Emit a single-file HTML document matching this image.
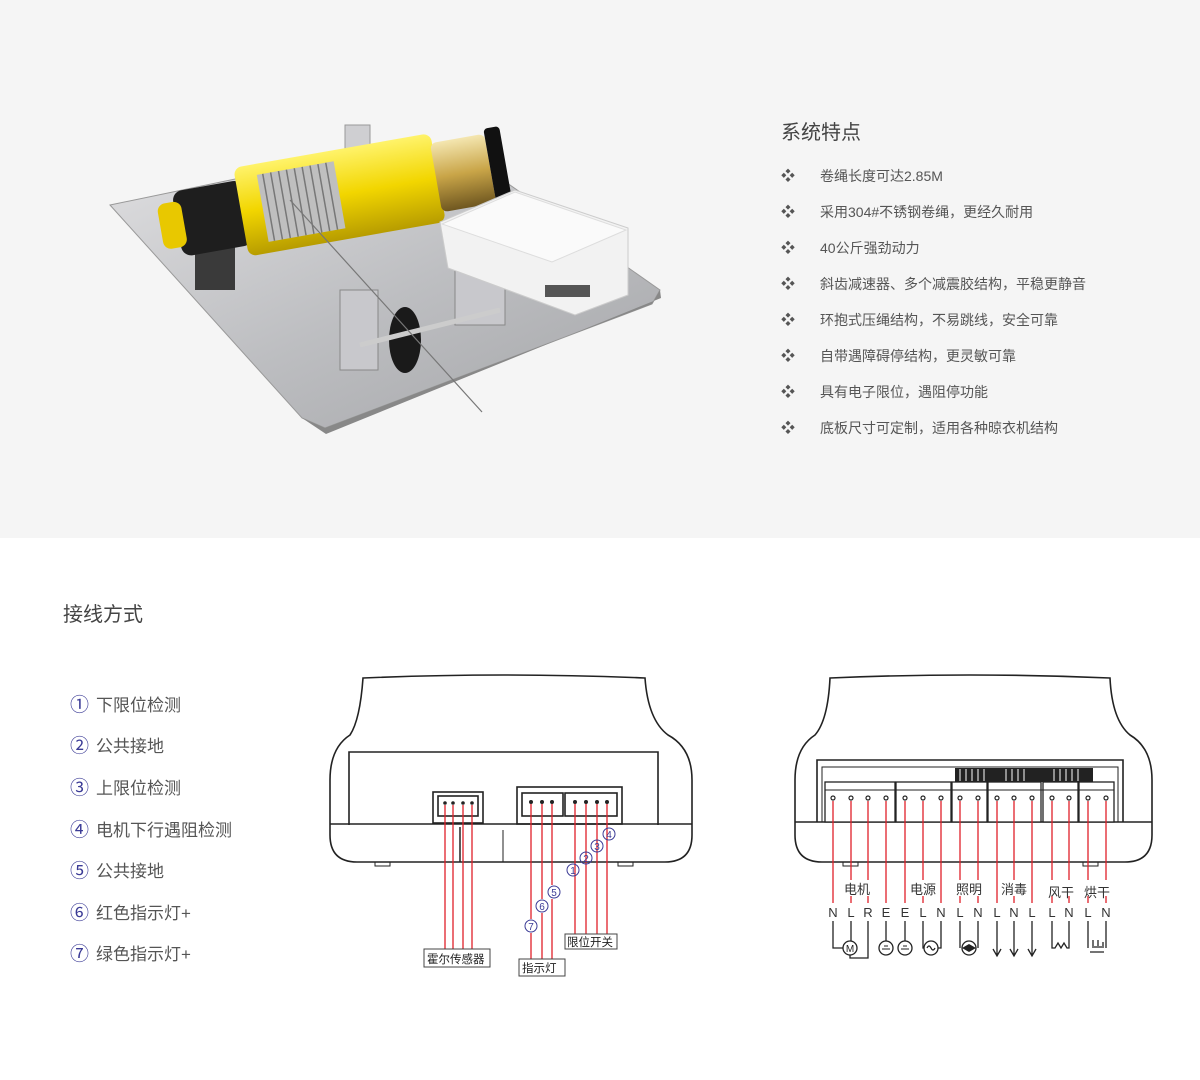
<!DOCTYPE html>
<html><head><meta charset="utf-8"><style>
*{margin:0;padding:0;box-sizing:border-box}
body{width:1200px;height:1080px;position:relative;background:#fff;font-family:"Liberation Sans","Noto Sans CJK SC",sans-serif;overflow:hidden}
.top{position:absolute;left:0;top:0;width:1200px;height:538px;background:#f5f5f5}
.t{position:absolute;white-space:nowrap}
.h{font-size:20px;color:#444}
.f{font-size:14px;color:#555;left:820px}
.b{font-size:14px;color:#555;left:781px}
.l{font-size:17px;color:#555;left:96px}
.c{font-size:19px;color:#3b3b96;left:70px}
svg{position:absolute;left:0;top:0}
</style></head><body>
<div class="top"></div>
<svg width="1200" height="1080" viewBox="0 0 1200 1080">
<defs>
<linearGradient id="pl" x1="0" y1="0" x2="1" y2="1"><stop offset="0" stop-color="#dcdcde"/><stop offset=".5" stop-color="#bdbec1"/><stop offset="1" stop-color="#a4a5a8"/></linearGradient>
<linearGradient id="ye" x1="0" y1="0" x2="0" y2="1"><stop offset="0" stop-color="#fff36a"/><stop offset=".5" stop-color="#f2d600"/><stop offset="1" stop-color="#b79c00"/></linearGradient>
<linearGradient id="go" x1="0" y1="0" x2="0" y2="1"><stop offset="0" stop-color="#f4e6b0"/><stop offset=".5" stop-color="#c9a548"/><stop offset="1" stop-color="#6f5720"/></linearGradient>
</defs>
<!-- machine -->
<polygon points="110,205 240,178 500,178 660,290 652,304 325,428 302,418" fill="url(#pl)" stroke="#999" stroke-width="1"/>
<polygon points="302,418 325,428 652,304 660,290 661,298 326,434" fill="#888"/>
<rect x="195" y="235" width="40" height="55" fill="#3a3a3a"/>
<rect x="340" y="290" width="38" height="80" fill="#c8c8cc" stroke="#888"/>
<rect x="455" y="250" width="50" height="75" fill="#c8c8cc" stroke="#888"/>
<rect x="345" y="125" width="25" height="30" fill="#cfcfd2" stroke="#999"/>
<g transform="rotate(-10 310 200)">
<rect x="175" y="168" width="72" height="66" rx="10" fill="#1e1e1e"/>
<rect x="240" y="155" width="200" height="90" rx="8" fill="url(#ye)"/>
<rect x="262" y="166" width="78" height="68" fill="#bfbfbf"/>
<g stroke="#777" stroke-width="1.5"><line x1="268" y1="166" x2="268" y2="234"/><line x1="276" y1="166" x2="276" y2="234"/><line x1="284" y1="166" x2="284" y2="234"/><line x1="292" y1="166" x2="292" y2="234"/><line x1="300" y1="166" x2="300" y2="234"/><line x1="308" y1="166" x2="308" y2="234"/><line x1="316" y1="166" x2="316" y2="234"/><line x1="324" y1="166" x2="324" y2="234"/><line x1="332" y1="166" x2="332" y2="234"/></g>
<rect x="438" y="165" width="55" height="70" rx="6" fill="url(#go)"/>
<rect x="493" y="160" width="16" height="80" rx="4" fill="#111"/>
<rect x="158" y="178" width="24" height="46" rx="8" fill="#e8c800"/>
</g>
<ellipse cx="405" cy="340" rx="16" ry="33" fill="#1a1a1a"/>
<line x1="360" y1="345" x2="500" y2="310" stroke="#ccc" stroke-width="5"/>
<line x1="290" y1="200" x2="482" y2="412" stroke="#777" stroke-width="1.2"/>
<polygon points="440,222 515,190 628,228 628,295 575,315 448,268" fill="#f2f2f2" stroke="#ccc"/>
<polygon points="442,224 515,192 626,230 552,262" fill="#fafafa" stroke="#ddd"/>
<rect x="545" y="285" width="45" height="12" fill="#555"/>
<!-- LEFT DEVICE -->
<g fill="none" stroke="#222" stroke-width="1.6">
<path d="M363,678 Q503,672 645,678 Q648,720 668,735 Q692,748 692,780 L692,835 Q692,862 665,862 L357,862 Q330,862 330,835 L330,780 Q330,748 350,735 Q360,720 363,678 Z"/>
<path d="M349,825 L349,752 L658,752 L658,825"/>
<line x1="330" y1="824" x2="692" y2="824"/>
<rect x="433" y="792" width="50" height="31"/>
<rect x="438" y="796" width="40" height="20"/>
<rect x="517" y="787" width="105" height="37"/>
<rect x="522" y="793" width="41" height="23"/>
<rect x="565" y="793" width="52" height="23"/>
</g>
<line x1="460" y1="827" x2="460" y2="862" stroke="#222" stroke-width="1.5"/>
<line x1="503" y1="830" x2="503" y2="862" stroke="#222" stroke-width="1"/>
<rect x="375" y="862" width="15" height="4" fill="none" stroke="#222"/>
<rect x="618" y="862" width="15" height="4" fill="none" stroke="#222"/>
<g fill="#222"><circle cx="445" cy="803" r="1.8"/><circle cx="453" cy="803" r="1.8"/><circle cx="463" cy="803" r="1.8"/><circle cx="472" cy="803" r="1.8"/>
<circle cx="531" cy="802" r="2"/><circle cx="542" cy="802" r="2"/><circle cx="552" cy="802" r="2"/>
<circle cx="575" cy="802" r="2"/><circle cx="586" cy="802" r="2"/><circle cx="597" cy="802" r="2"/><circle cx="607" cy="802" r="2"/></g>
<g stroke="#e0202a" stroke-width="1.3">
<line x1="445" y1="805" x2="445" y2="950"/><line x1="453" y1="805" x2="453" y2="950"/><line x1="463" y1="805" x2="463" y2="950"/><line x1="472" y1="805" x2="472" y2="950"/>
<line x1="531" y1="804" x2="531" y2="919"/><line x1="531" y1="933" x2="531" y2="960"/>
<line x1="542" y1="804" x2="542" y2="899"/><line x1="542" y1="913" x2="542" y2="960"/>
<line x1="552" y1="804" x2="552" y2="885"/><line x1="552" y1="899" x2="552" y2="960"/>
<line x1="575" y1="804" x2="575" y2="935"/><line x1="586" y1="804" x2="586" y2="935"/><line x1="597" y1="804" x2="597" y2="935"/><line x1="607" y1="804" x2="607" y2="935"/>
</g>
<g fill="none" stroke="#3b3b96" stroke-width="1"><circle cx="609" cy="834" r="6"/><circle cx="597" cy="846" r="6"/><circle cx="586" cy="858" r="6"/><circle cx="573" cy="870" r="6"/><circle cx="554" cy="892" r="6"/><circle cx="542" cy="906" r="6"/><circle cx="531" cy="926" r="6"/></g>
<g font-size="10" fill="#3b3b96" text-anchor="middle" font-family="Liberation Sans,sans-serif"><text x="609" y="838">4</text><text x="597" y="850">3</text><text x="586" y="862">2</text><text x="573" y="874">1</text><text x="554" y="896">5</text><text x="542" y="910">6</text><text x="531" y="930">7</text></g>
<g fill="#fff" stroke="#444" stroke-width="1"><rect x="424" y="949" width="66" height="18"/><rect x="519" y="959" width="46" height="17"/><rect x="565" y="934" width="52" height="15"/></g>
<g font-size="11.5" fill="#222" font-family="Liberation Sans,Noto Sans CJK SC,sans-serif"><text x="427" y="963">霍尔传感器</text><text x="522" y="972">指示灯</text><text x="567" y="946">限位开关</text></g>
<!-- RIGHT DEVICE -->
<g fill="none" stroke="#222" stroke-width="1.6">
<path d="M830,678 Q970,672 1110,678 Q1112,720 1130,735 Q1152,748 1152,780 L1152,835 Q1152,862 1125,862 L822,862 Q795,862 795,835 L795,780 Q795,748 815,735 Q828,720 830,678 Z"/>
<path d="M817,822 L817,760 L1123,760 L1123,822"/>
<path d="M822,822 L822,767 L1118,767 L1118,822" stroke-width="1"/>
<line x1="795" y1="822" x2="1152" y2="822"/>
</g>
<rect x="955" y="768" width="138" height="14" fill="#222"/>
<g stroke="#fff" stroke-width="1"><line x1="960" y1="769" x2="960" y2="781"/><line x1="966" y1="769" x2="966" y2="781"/><line x1="972" y1="769" x2="972" y2="781"/><line x1="978" y1="769" x2="978" y2="781"/><line x1="984" y1="769" x2="984" y2="781"/><line x1="1006" y1="769" x2="1006" y2="781"/><line x1="1012" y1="769" x2="1012" y2="781"/><line x1="1018" y1="769" x2="1018" y2="781"/><line x1="1024" y1="769" x2="1024" y2="781"/><line x1="1054" y1="769" x2="1054" y2="781"/><line x1="1060" y1="769" x2="1060" y2="781"/><line x1="1066" y1="769" x2="1066" y2="781"/><line x1="1072" y1="769" x2="1072" y2="781"/><line x1="1078" y1="769" x2="1078" y2="781"/></g>
<g fill="#fff" stroke="#222" stroke-width="1.3"><rect x="825" y="782" width="70" height="40"/><rect x="896" y="782" width="55" height="40"/><rect x="952" y="782" width="35" height="40"/><rect x="988" y="782" width="53" height="40"/><rect x="1043" y="782" width="35" height="40"/><rect x="1079" y="782" width="35" height="40"/></g>
<g stroke="#222"><line x1="825" y1="790" x2="1114" y2="790"/></g>
<g fill="#fff" stroke="#222" stroke-width="1.2"><circle cx="833" cy="798" r="2"/><circle cx="851" cy="798" r="2"/><circle cx="868" cy="798" r="2"/><circle cx="886" cy="798" r="2"/><circle cx="905" cy="798" r="2"/><circle cx="923" cy="798" r="2"/><circle cx="941" cy="798" r="2"/><circle cx="960" cy="798" r="2"/><circle cx="978" cy="798" r="2"/><circle cx="997" cy="798" r="2"/><circle cx="1014" cy="798" r="2"/><circle cx="1032" cy="798" r="2"/><circle cx="1052" cy="798" r="2"/><circle cx="1069" cy="798" r="2"/><circle cx="1088" cy="798" r="2"/><circle cx="1106" cy="798" r="2"/></g>
<rect x="843" y="862" width="15" height="4" fill="none" stroke="#222"/>
<rect x="1083" y="862" width="15" height="4" fill="none" stroke="#222"/>
<g stroke="#e0202a" stroke-width="1.3">
<line x1="833" y1="801" x2="833" y2="903"/><line x1="851" y1="801" x2="851" y2="880"/><line x1="851" y1="896" x2="851" y2="903"/><line x1="868" y1="801" x2="868" y2="880"/><line x1="868" y1="896" x2="868" y2="903"/><line x1="886" y1="801" x2="886" y2="903"/>
<line x1="905" y1="801" x2="905" y2="903"/><line x1="923" y1="801" x2="923" y2="880"/><line x1="923" y1="896" x2="923" y2="903"/><line x1="941" y1="801" x2="941" y2="903"/>
<line x1="960" y1="801" x2="960" y2="880"/><line x1="960" y1="896" x2="960" y2="903"/><line x1="978" y1="801" x2="978" y2="880"/><line x1="978" y1="896" x2="978" y2="903"/>
<line x1="997" y1="801" x2="997" y2="903"/><line x1="1014" y1="801" x2="1014" y2="880"/><line x1="1014" y1="896" x2="1014" y2="903"/><line x1="1032" y1="801" x2="1032" y2="903"/>
<line x1="1052" y1="801" x2="1052" y2="880"/><line x1="1052" y1="896" x2="1052" y2="903"/><line x1="1069" y1="801" x2="1069" y2="880"/><line x1="1069" y1="896" x2="1069" y2="903"/>
<line x1="1088" y1="801" x2="1088" y2="880"/><line x1="1088" y1="896" x2="1088" y2="903"/><line x1="1106" y1="801" x2="1106" y2="880"/><line x1="1106" y1="896" x2="1106" y2="903"/>
</g>
<g font-size="13" fill="#333" text-anchor="middle" font-family="Liberation Sans,Noto Sans CJK SC,sans-serif"><text x="857" y="894">电机</text><text x="923" y="894">电源</text><text x="969" y="894">照明</text><text x="1014" y="894">消毒</text><text x="1061" y="897">风干</text><text x="1097" y="897">烘干</text></g>
<g font-size="13" fill="#333" text-anchor="middle" font-family="Liberation Sans,sans-serif"><text x="833" y="917">N</text><text x="851" y="917">L</text><text x="868" y="917">R</text><text x="886" y="917">E</text><text x="905" y="917">E</text><text x="923" y="917">L</text><text x="941" y="917">N</text><text x="960" y="917">L</text><text x="978" y="917">N</text><text x="997" y="917">L</text><text x="1014" y="917">N</text><text x="1032" y="917">L</text><text x="1052" y="917">L</text><text x="1069" y="917">N</text><text x="1088" y="917">L</text><text x="1106" y="917">N</text></g>
<g fill="none" stroke="#222" stroke-width="1.3">
<path d="M833,921 V948 H843"/><circle cx="850" cy="948" r="7"/><line x1="851" y1="921" x2="851" y2="941"/><path d="M868,921 V958 H850 V955"/>
<line x1="886" y1="921" x2="886" y2="941"/><circle cx="886" cy="948" r="7"/><line x1="905" y1="921" x2="905" y2="941"/><circle cx="905" cy="948" r="7"/>
<path d="M923,921 V948 H924"/><circle cx="931" cy="948" r="7"/><path d="M941,921 V948 H938"/><path d="M927,948 q2,-4 4,0 t4,0"/>
<path d="M960,921 V948"/><path d="M978,921 V948"/><circle cx="969" cy="948" r="7"/>
<path d="M997,921 V955 M993,949 L997,956 L1001,949"/><path d="M1014,921 V955 M1010,949 L1014,956 L1018,949"/><path d="M1032,921 V955 M1028,949 L1032,956 L1036,949"/>
<path d="M1052,921 V948 H1055 L1058,943 L1061,948 L1064,943 L1067,948 H1069 V921"/>
<path d="M1088,921 V948 M1106,921 V948 M1090,952 H1104 M1092,947 H1104 M1093,946 V940 M1098,946 V940 M1103,946 V942"/>
</g>
<g stroke="#222" stroke-width="1"><line x1="884" y1="946" x2="888" y2="946"/><line x1="882" y1="949" x2="890" y2="949"/><line x1="903" y1="946" x2="907" y2="946"/><line x1="901" y1="949" x2="909" y2="949"/></g>
<path d="M962,948 L969,944 L976,948 L969,952 Z" fill="#222"/>
<text x="850" y="952" font-size="10" text-anchor="middle" fill="#222">M</text>
</svg>
<div class="t h" style="left:781px;top:116px">系统特点</div>
<div class="t b" style="top:166px">❖</div><div class="t f" style="top:166px">卷绳长度可达2.85M</div>
<div class="t b" style="top:202px">❖</div><div class="t f" style="top:202px">采用304#不锈钢卷绳，更经久耐用</div>
<div class="t b" style="top:238px">❖</div><div class="t f" style="top:238px">40公斤强劲动力</div>
<div class="t b" style="top:274px">❖</div><div class="t f" style="top:274px">斜齿减速器、多个减震胶结构，平稳更静音</div>
<div class="t b" style="top:310px">❖</div><div class="t f" style="top:310px">环抱式压绳结构，不易跳线，安全可靠</div>
<div class="t b" style="top:346px">❖</div><div class="t f" style="top:346px">自带遇障碍停结构，更灵敏可靠</div>
<div class="t b" style="top:382px">❖</div><div class="t f" style="top:382px">具有电子限位，遇阻停功能</div>
<div class="t b" style="top:418px">❖</div><div class="t f" style="top:418px">底板尺寸可定制，适用各种晾衣机结构</div>
<div class="t h" style="left:63px;top:598px">接线方式</div>
<div class="t c" style="top:690px">①</div><div class="t l" style="top:691px">下限位检测</div>
<div class="t c" style="top:731px">②</div><div class="t l" style="top:732px">公共接地</div>
<div class="t c" style="top:773px">③</div><div class="t l" style="top:774px">上限位检测</div>
<div class="t c" style="top:815px">④</div><div class="t l" style="top:816px">电机下行遇阻检测</div>
<div class="t c" style="top:856px">⑤</div><div class="t l" style="top:857px">公共接地</div>
<div class="t c" style="top:898px">⑥</div><div class="t l" style="top:899px">红色指示灯+</div>
<div class="t c" style="top:939px">⑦</div><div class="t l" style="top:940px">绿色指示灯+</div>
</body></html>
